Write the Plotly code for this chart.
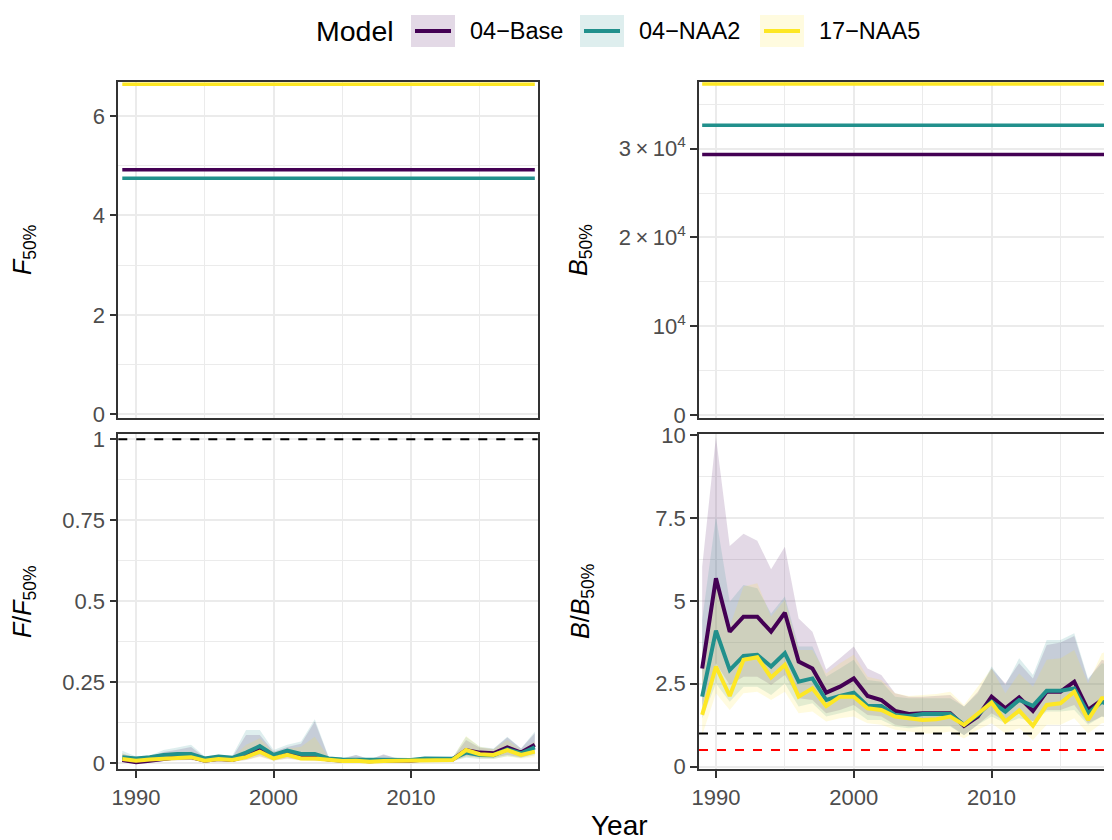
import plotly.graph_objects as go

years = list(range(1989, 2020))
models = ["04-Base", "04-NAA2", "17-NAA5"]
legend_labels = ["04\u2212Base", "04\u2212NAA2", "17\u2212NAA5"]
colors = ["#440154", "#21908C", "#FDE725"]
fills = ["rgba(68,1,84,0.15)", "rgba(33,144,140,0.15)", "rgba(253,231,37,0.15)"]

# Reference points (constant per model)
F50 = [4.92, 4.75, 6.64]
B50 = [29340, 32650, 37280]

# F / F50%
FF_mid = [
    [0.010, 0.003, 0.008, 0.015, 0.019, 0.019, 0.008, 0.013, 0.010, 0.022, 0.043, 0.018, 0.030, 0.020, 0.018, 0.012, 0.008, 0.009, 0.006, 0.009, 0.008, 0.008, 0.012, 0.011, 0.011, 0.041, 0.033, 0.031, 0.049, 0.033, 0.057],
    [0.019, 0.015, 0.019, 0.026, 0.029, 0.029, 0.015, 0.021, 0.017, 0.033, 0.053, 0.026, 0.039, 0.029, 0.029, 0.015, 0.012, 0.012, 0.010, 0.012, 0.012, 0.010, 0.015, 0.014, 0.014, 0.033, 0.026, 0.025, 0.043, 0.031, 0.049],
    [0.013, 0.008, 0.012, 0.015, 0.019, 0.019, 0.008, 0.013, 0.010, 0.019, 0.036, 0.015, 0.026, 0.015, 0.015, 0.010, 0.007, 0.008, 0.005, 0.007, 0.007, 0.007, 0.010, 0.010, 0.010, 0.041, 0.028, 0.026, 0.041, 0.026, 0.036],
]
FF_lo = [
    [0.004, 0.001, 0.004, 0.008, 0.010, 0.010, 0.004, 0.007, 0.005, 0.010, 0.022, 0.009, 0.015, 0.010, 0.008, 0.006, 0.004, 0.004, 0.003, 0.004, 0.004, 0.004, 0.006, 0.006, 0.006, 0.022, 0.018, 0.017, 0.026, 0.018, 0.030],
    [0.010, 0.008, 0.010, 0.013, 0.015, 0.015, 0.008, 0.011, 0.009, 0.016, 0.027, 0.013, 0.020, 0.014, 0.013, 0.008, 0.006, 0.006, 0.005, 0.006, 0.006, 0.005, 0.008, 0.007, 0.007, 0.017, 0.013, 0.013, 0.022, 0.016, 0.025],
    [0.006, 0.004, 0.006, 0.008, 0.010, 0.010, 0.004, 0.007, 0.005, 0.010, 0.019, 0.008, 0.013, 0.008, 0.007, 0.005, 0.003, 0.004, 0.002, 0.003, 0.003, 0.003, 0.005, 0.005, 0.005, 0.020, 0.015, 0.014, 0.021, 0.014, 0.019],
]
FF_hi = [
    [0.030, 0.015, 0.018, 0.035, 0.042, 0.050, 0.018, 0.022, 0.019, 0.087, 0.087, 0.036, 0.050, 0.060, 0.129, 0.019, 0.014, 0.026, 0.012, 0.028, 0.014, 0.012, 0.018, 0.017, 0.015, 0.072, 0.048, 0.044, 0.080, 0.046, 0.093],
    [0.039, 0.021, 0.023, 0.041, 0.049, 0.057, 0.021, 0.026, 0.023, 0.103, 0.103, 0.041, 0.057, 0.067, 0.136, 0.021, 0.016, 0.026, 0.013, 0.026, 0.016, 0.014, 0.019, 0.018, 0.016, 0.082, 0.051, 0.046, 0.082, 0.046, 0.098],
    [0.031, 0.016, 0.019, 0.030, 0.035, 0.036, 0.016, 0.020, 0.017, 0.057, 0.077, 0.033, 0.045, 0.051, 0.082, 0.018, 0.013, 0.016, 0.010, 0.014, 0.012, 0.012, 0.016, 0.016, 0.015, 0.084, 0.051, 0.043, 0.072, 0.041, 0.067],
]

# B / B50%
BB_mid = [
    [2.96, 5.68, 4.07, 4.52, 4.52, 4.07, 4.64, 3.17, 2.96, 2.23, 2.41, 2.66, 2.13, 2.01, 1.68, 1.59, 1.61, 1.61, 1.61, 1.23, 1.51, 2.11, 1.76, 2.09, 1.68, 2.26, 2.26, 2.56, 1.71, 2.01, 1.96],
    [2.11, 4.10, 2.91, 3.34, 3.37, 3.02, 3.42, 2.56, 2.66, 2.01, 2.13, 2.23, 1.83, 1.83, 1.56, 1.53, 1.59, 1.59, 1.59, 1.26, 1.56, 1.96, 1.66, 2.01, 1.83, 2.29, 2.29, 2.36, 1.61, 1.96, 1.76],
    [1.56, 3.02, 2.13, 3.22, 3.30, 2.69, 3.07, 2.11, 2.36, 1.83, 2.11, 2.11, 1.76, 1.71, 1.51, 1.46, 1.41, 1.43, 1.51, 1.26, 1.61, 1.93, 1.36, 1.69, 1.23, 1.86, 1.91, 2.26, 1.41, 2.06, 2.06],
]
BB_lo = [
    [1.81, 3.12, 2.46, 2.71, 2.71, 2.46, 2.76, 2.06, 2.01, 1.61, 1.71, 1.86, 1.56, 1.51, 1.26, 1.21, 1.23, 1.23, 1.23, 0.95, 1.26, 1.61, 1.36, 1.61, 1.36, 1.71, 1.71, 1.86, 1.31, 1.51, 1.46],
    [1.46, 2.51, 1.96, 2.41, 2.41, 2.16, 2.51, 1.81, 1.91, 1.51, 1.61, 1.71, 1.41, 1.41, 1.21, 1.16, 1.21, 1.21, 1.21, 0.95, 1.26, 1.51, 1.31, 1.46, 1.36, 1.66, 1.66, 1.71, 1.26, 1.51, 1.36],
    [0.95, 2.21, 1.71, 2.21, 2.26, 2.01, 2.26, 1.61, 1.66, 1.36, 1.46, 1.51, 1.31, 1.26, 1.11, 1.06, 1.00, 1.00, 1.06, 0.85, 1.11, 1.31, 1.00, 1.16, 0.80, 1.26, 1.26, 1.46, 1.00, 1.31, 1.36],
]
BB_hi = [
    [6.03, 9.95, 6.65, 7.02, 6.81, 5.95, 6.63, 4.47, 4.07, 2.93, 3.27, 3.62, 2.96, 2.76, 2.21, 2.11, 2.11, 2.13, 2.16, 1.81, 2.26, 2.96, 2.51, 3.12, 2.66, 3.67, 3.74, 3.94, 2.61, 3.22, 3.10],
    [4.42, 7.54, 4.97, 5.48, 5.38, 4.62, 5.13, 3.62, 3.62, 2.71, 2.96, 3.22, 2.61, 2.56, 2.11, 2.06, 2.06, 2.06, 2.06, 1.81, 2.21, 3.02, 2.46, 3.27, 2.76, 3.82, 3.82, 4.02, 2.66, 3.12, 3.00],
    [3.42, 5.43, 4.22, 5.43, 5.53, 4.52, 5.03, 3.52, 3.52, 2.81, 3.12, 3.37, 2.71, 2.61, 2.21, 2.13, 2.16, 2.19, 2.26, 1.86, 2.41, 2.96, 2.21, 2.81, 2.41, 3.22, 3.27, 3.52, 2.51, 3.42, 3.57],
]

F_ref = [1.0]
B_ref = [1.0, 0.5]
B_ref_colors = ["black", "red"]

x_ticks = [1990, 2000, 2010]
F50_ticks = [0, 2, 4, 6]
B50_ticks = [0, 10000, 20000, 30000]
B50_ticktext = ["0", "10<sup>4</sup>", "2\u2009×\u200910<sup>4</sup>", "3\u2009×\u200910<sup>4</sup>"]
FF_ticks = [0, 0.25, 0.5, 0.75, 1]
FF_ticktext = ["0", "0.25", "0.5", "0.75", "1"]
BB_ticks = [0, 2.5, 5, 7.5, 10]
BB_ticktext = ["0", "2.5", "5", "7.5", "10"]

FONT = "Liberation Sans, Arial, sans-serif"
TICK_COLOR = "#4D4D4D"
BORDER = "#333333"
GRID = "#EBEBEB"

W, H = 1112, 840
OFF = 8  # page body margin
def px(v):
    return (v - OFF) / W
def py(v):
    return 1 - (v - OFF) / H

fig = go.Figure()

def ribbon(xa, ya, lo, hi, fc):
    fig.add_trace(go.Scatter(
        x=years + years[::-1], y=hi + lo[::-1], fill="toself", fillcolor=fc,
        line=dict(width=0), mode="lines", hoverinfo="skip", showlegend=False,
        xaxis=xa, yaxis=ya))

for i in range(3):
    ribbon("x3", "y3", FF_lo[i], FF_hi[i], fills[i])
    ribbon("x4", "y4", BB_lo[i], BB_hi[i], fills[i])

for i in range(3):
    fig.add_trace(go.Scatter(x=years, y=[F50[i]] * len(years), mode="lines",
                             line=dict(color=colors[i], width=3.5), name=models[i],
                             showlegend=False, xaxis="x", yaxis="y"))
    fig.add_trace(go.Scatter(x=years, y=[B50[i]] * len(years), mode="lines",
                             line=dict(color=colors[i], width=3.5), name=models[i],
                             showlegend=False, xaxis="x2", yaxis="y2"))
    fig.add_trace(go.Scatter(x=years, y=FF_mid[i], mode="lines",
                             line=dict(color=colors[i], width=4), name=models[i],
                             showlegend=False, xaxis="x3", yaxis="y3"))
    fig.add_trace(go.Scatter(x=years, y=BB_mid[i], mode="lines",
                             line=dict(color=colors[i], width=4), name=models[i],
                             showlegend=False, xaxis="x4", yaxis="y4"))

for v in F_ref:
    fig.add_shape(type="line", xref="x3 domain", yref="y3", x0=0, x1=1, y0=v, y1=v,
                  line=dict(color="black", width=2, dash="dash"))
for v, c in zip(B_ref, B_ref_colors):
    fig.add_shape(type="line", xref="x4 domain", yref="y4", x0=0, x1=1, y0=v, y1=v,
                  line=dict(color=c, width=2, dash="dash"))

left_dom = [px(118.3), px(537.7)]
right_dom = [px(699), px(1118.5)]
top_dom = [py(417.7), py(81.7)]
bot_dom = [py(769.3), py(434.3)]

def xaxis(dom, anchor, labels, rng):
    d = dict(
        domain=dom, anchor=anchor, range=rng, automargin=False,
        tickmode="array", tickvals=x_ticks,
        showticklabels=labels,
        ticks="outside" if labels else "", ticklen=7, tickwidth=1.5, tickcolor=BORDER,
        tickfont=dict(family=FONT, size=22, color=TICK_COLOR),
        showgrid=True, gridcolor=GRID, gridwidth=1.8,
        minor=dict(tick0=1995, dtick=10, showgrid=True, gridcolor=GRID, gridwidth=0.9),
        showline=True, linecolor=BORDER, linewidth=1.6, mirror=True,
        zeroline=False, fixedrange=True,
    )
    if labels:
        d["ticktext"] = [str(t) for t in x_ticks]
    return d

def yaxis(dom, anchor, tv, tt, rng, minor_tick0, minor_dtick):
    return dict(
        domain=dom, anchor=anchor, range=rng, automargin=False,
        tickmode="array", tickvals=tv, ticktext=tt,
        ticks="outside", ticklen=7, tickwidth=1.5, tickcolor=BORDER,
        tickfont=dict(family=FONT, size=22, color=TICK_COLOR),
        showgrid=True, gridcolor=GRID, gridwidth=1.8,
        minor=dict(tick0=minor_tick0, dtick=minor_dtick, showgrid=True, gridcolor=GRID, gridwidth=0.9),
        showline=True, linecolor=BORDER, linewidth=1.6, mirror=True,
        zeroline=False, fixedrange=True,
    )

xr_left = [1988.71, 2019.21]
xr_right = [1988.77, 2019.21]

fig.update_layout(
    width=W, height=H,
    margin=dict(l=0, r=0, t=0, b=0, pad=0, autoexpand=False),
    paper_bgcolor="white", plot_bgcolor="white",
    font=dict(family=FONT, color="black"),
    showlegend=False,
    xaxis=xaxis(left_dom, "y", False, xr_left),
    yaxis=yaxis(top_dom, "x", F50_ticks, [str(t) for t in F50_ticks], [-0.068, 6.69], 1, 2),
    xaxis2=xaxis(right_dom, "y2", False, xr_right),
    yaxis2=yaxis(top_dom, "x2", B50_ticks, B50_ticktext, [-300, 37550], 5000, 10000),
    xaxis3=xaxis(left_dom, "y3", True, xr_left),
    yaxis3=yaxis(bot_dom, "x3", FF_ticks, FF_ticktext, [-0.0185, 1.0154], 0.125, 0.25),
    xaxis4=xaxis(right_dom, "y4", True, xr_right),
    yaxis4=yaxis(bot_dom, "x4", BB_ticks, BB_ticktext, [-0.08, 10.02], 1.25, 2.5),
)

ytitles = [
    ("<i>F</i><sub>50%</sub>", 24, 250),
    ("<i>B</i><sub>50%</sub>", 580, 250),
    ("<i>F</i>/<i>F</i><sub>50%</sub>", 24, 602),
    ("<i>B</i>/<i>B</i><sub>50%</sub>", 582, 602),
]
for txt, xx, yy in ytitles:
    fig.add_annotation(text=txt, x=px(xx), y=py(yy), xref="paper", yref="paper",
                       showarrow=False, textangle=-90, xanchor="center", yanchor="middle",
                       font=dict(family=FONT, size=25, color="black"))

fig.add_annotation(text="Year", x=px(619), y=py(825), xref="paper", yref="paper",
                   showarrow=False, xanchor="center", yanchor="middle",
                   font=dict(family=FONT, size=28, color="black"))

fig.add_annotation(text="Model", x=px(314), y=py(31), xref="paper", yref="paper",
                   showarrow=False, xanchor="left", yanchor="middle",
                   font=dict(family=FONT, size=28.5, color="black"))
key_x = [411, 580, 760]
for i in range(3):
    x0 = key_x[i]
    fig.add_shape(type="rect", xref="paper", yref="paper",
                  x0=px(x0), x1=px(x0 + 44), y0=py(47), y1=py(15),
                  fillcolor=fills[i], line=dict(width=0), layer="above")
    fig.add_shape(type="line", xref="paper", yref="paper",
                  x0=px(x0 + 4), x1=px(x0 + 40), y0=py(31), y1=py(31),
                  line=dict(color=colors[i], width=4), layer="above")
    fig.add_annotation(text=legend_labels[i], x=px(x0 + 57), y=py(31), xref="paper", yref="paper",
                       showarrow=False, xanchor="left", yanchor="middle",
                       font=dict(family=FONT, size=23.5, color="black"))

fig.write_html("out.html")
